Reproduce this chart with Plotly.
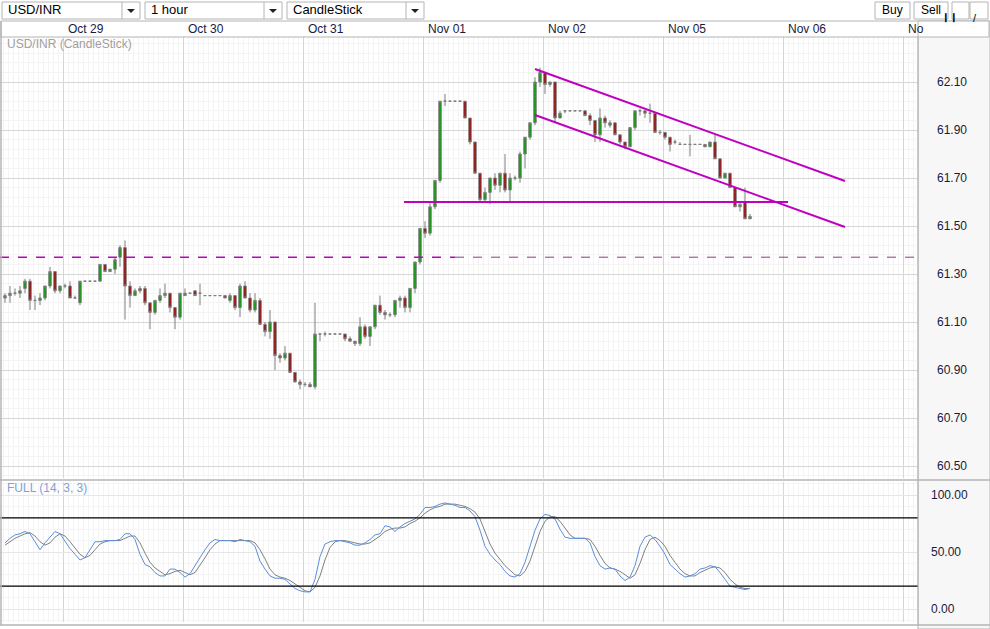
import plotly.graph_objects as go

opens = [61.20,61.21,61.22,61.22,61.24,61.27,61.19,61.19,61.20,61.25,
 61.31,61.23,61.25,61.25,61.20,61.18,61.27,61.27,61.27,61.27,
 61.34,61.31,61.32,61.37,61.41,61.25,61.21,61.24,61.24,61.18,
 61.14,61.19,61.21,61.22,61.16,61.12,61.21,61.22,61.23,61.22,
 61.21,61.21,61.21,61.21,61.21,61.19,61.21,61.16,61.25,61.20,
 61.15,61.19,61.09,61.06,61.10,60.96,60.95,60.97,60.89,60.85,
 60.84,60.84,60.83,61.05,61.05,61.05,61.05,61.05,61.05,61.03,
 61.02,61.01,61.08,61.04,61.08,61.17,61.14,61.13,61.13,61.19,
 61.20,61.16,61.24,61.35,61.49,61.47,61.58,61.69,62.02,62.02,
 62.02,62.02,62.02,61.95,61.85,61.72,61.61,61.64,61.70,61.67,
 61.72,61.65,61.70,61.70,61.80,61.87,61.93,62.10,62.14,62.09,
 62.10,61.95,61.98,61.98,61.98,61.98,61.98,61.96,61.94,61.88,
 61.95,61.92,61.93,61.88,61.85,61.83,61.91,61.98,61.98,61.97,
 61.97,61.89,61.89,61.87,61.85,61.84,61.84,61.84,61.84,61.84,
 61.84,61.83,61.85,61.78,61.70,61.72,61.66,61.58,61.60,61.53]
closes = [61.21,61.22,61.22,61.23,61.27,61.19,61.19,61.20,61.25,61.31,
 61.23,61.25,61.25,61.20,61.20,61.27,61.27,61.27,61.27,61.34,
 61.31,61.32,61.36,61.41,61.25,61.21,61.23,61.23,61.18,61.14,
 61.19,61.21,61.22,61.16,61.12,61.22,61.22,61.22,61.21,61.22,
 61.21,61.21,61.21,61.21,61.20,61.21,61.16,61.25,61.20,61.15,
 61.19,61.09,61.06,61.10,60.96,60.95,60.97,60.89,60.85,60.84,
 60.84,60.83,61.05,61.05,61.05,61.05,61.05,61.05,61.03,61.02,
 61.01,61.08,61.04,61.08,61.17,61.14,61.13,61.13,61.19,61.20,
 61.16,61.24,61.35,61.49,61.47,61.58,61.69,62.02,62.02,62.02,
 62.02,62.02,61.95,61.85,61.72,61.61,61.64,61.70,61.67,61.72,
 61.65,61.70,61.70,61.80,61.87,61.93,62.10,62.14,62.09,62.10,
 61.95,61.97,61.98,61.98,61.98,61.98,61.96,61.94,61.88,61.95,
 61.93,61.93,61.88,61.85,61.83,61.91,61.98,61.98,61.97,61.97,
 61.89,61.89,61.87,61.84,61.85,61.84,61.84,61.84,61.84,61.84,
 61.83,61.85,61.78,61.70,61.72,61.66,61.58,61.59,61.53,61.54]
highs = [61.22,61.25,61.24,61.25,61.28,61.28,61.21,61.22,61.25,61.33,
 61.31,61.25,61.26,61.27,61.21,61.27,61.27,61.27,61.27,61.34,
 61.34,61.32,61.37,61.42,61.44,61.27,61.24,61.25,61.25,61.18,
 61.19,61.24,61.26,61.22,61.16,61.22,61.24,61.22,61.23,61.26,
 61.21,61.21,61.21,61.21,61.21,61.22,61.21,61.26,61.27,61.22,
 61.22,61.20,61.10,61.15,61.10,60.97,61.00,60.97,60.89,60.86,
 60.85,60.85,61.18,61.05,61.06,61.05,61.05,61.05,61.05,61.04,
 61.02,61.12,61.09,61.08,61.17,61.21,61.15,61.14,61.19,61.21,
 61.21,61.24,61.35,61.49,61.52,61.60,61.69,62.02,62.05,62.02,
 62.02,62.02,62.02,61.95,61.85,61.72,61.66,61.70,61.72,61.72,
 61.80,61.72,61.71,61.81,61.87,61.93,62.12,62.16,62.14,62.10,
 62.10,61.98,61.98,61.98,61.98,61.98,61.98,61.97,61.94,61.99,
 61.96,61.94,61.93,61.88,61.85,61.91,61.98,61.99,61.98,62.01,
 61.97,61.90,61.89,61.87,61.86,61.85,61.84,61.88,61.84,61.84,
 61.84,61.85,61.88,61.78,61.72,61.72,61.66,61.60,61.66,61.55]
lows = [61.18,61.18,61.21,61.20,61.22,61.15,61.15,61.17,61.19,61.24,
 61.22,61.22,61.24,61.20,61.20,61.17,61.27,61.27,61.27,61.27,
 61.31,61.31,61.30,61.33,61.11,61.16,61.21,61.22,61.17,61.07,
 61.13,61.18,61.20,61.14,61.07,61.11,61.21,61.22,61.21,61.17,
 61.21,61.21,61.21,61.21,61.20,61.18,61.15,61.12,61.20,61.14,
 61.14,61.09,61.04,61.03,60.90,60.93,60.94,60.89,60.85,60.82,
 60.83,60.83,60.82,61.02,61.04,61.05,61.05,61.05,61.02,61.02,
 61.00,61.00,61.03,61.00,61.07,61.13,61.11,61.12,61.12,61.16,
 61.14,61.14,61.22,61.34,61.45,61.46,61.57,61.68,62.00,62.02,
 62.02,62.02,61.95,61.84,61.72,61.60,61.60,61.59,61.65,61.64,
 61.64,61.60,61.69,61.68,61.74,61.86,61.92,62.08,62.05,62.08,
 61.93,61.95,61.97,61.98,61.98,61.98,61.96,61.92,61.85,61.85,
 61.91,61.91,61.88,61.84,61.82,61.83,61.90,61.96,61.95,61.93,
 61.89,61.88,61.86,61.81,61.84,61.84,61.84,61.79,61.84,61.84,
 61.83,61.83,61.78,61.70,61.70,61.66,61.58,61.56,61.53,61.53]

stoch_k = [58,62,65,66,68,66,59,52,58,63, 68,66,59,53,48,43,45,52,59,59,
 60,60,60,61,66,66,61,48,39,37, 32,29,29,35,35,32,28,31,38,46,
 52,58,61,60,60,60,59,61,60,59, 55,42,35,29,27,27,26,22,18,16,
 15,15,26,46,57,59,60,60,59,58, 56,56,58,61,65,66,73,72,68,72,
 75,77,79,83,89,89,90,92,93,92, 91,89,89,86,81,69,55,48,43,39,
 33,29,28,31,41,55,69,79,83,82, 79,70,63,62,62,62,62,58,46,38,
 35,36,35,29,25,28,38,55,63,65, 61,55,48,39,35,31,28,29,31,35,
 36,38,37,32,26,20,19,18,17,18]
stoch_d = [56,59,62,64,66,67,64,59,56,58, 63,66,64,59,53,48,45,47,52,57,
 59,60,60,60,62,64,64,58,49,41, 36,33,30,31,33,34,32,30,32,38,
 45,52,57,60,60,60,60,60,60,60, 58,52,44,35,30,28,27,25,22,19,
 16,15,19,29,43,54,59,60,60,59, 58,57,57,58,61,64,68,70,71,71,
 72,75,77,80,84,87,89,90,92,92, 92,91,90,88,85,79,68,57,49,43,
 38,34,30,29,33,42,55,68,77,81, 81,77,71,65,62,62,62,61,55,47,
 40,36,35,33,30,27,30,40,52,61, 63,60,55,47,41,35,31,29,29,32,
 34,36,37,36,32,26,22,19,18,18]

day_labels = ["Oct 29", "Oct 30", "Oct 31", "Nov 01", "Nov 02", "Nov 05", "Nov 06", "No"]
day_bounds = [11.6, 35.6, 59.6, 83.6, 107.6, 131.6, 155.6, 179.6]
price_ticks = [60.50, 60.70, 60.90, 61.10, 61.30, 61.50, 61.70, 61.90, 62.10]

support_x, support_y = [79.8, 156.6], [61.60, 61.60]
upper_x, upper_y = [106, 168], [62.154, 61.6875]
lower_x, lower_y = [106, 168], [61.9625, 61.4958]
res_level = 61.37

idx = list(range(len(opens)))
MAG = "#c000c0"
fig = go.Figure()
fig.add_trace(go.Candlestick(x=idx, open=opens, high=highs, low=lows, close=closes,
    increasing=dict(fillcolor="#00a000", line=dict(color="#7f7f7f", width=1)),
    decreasing=dict(fillcolor="#a00000", line=dict(color="#7f7f7f", width=1)),
    whiskerwidth=0, xaxis="x", yaxis="y", showlegend=False, hoverinfo="skip"))
fig.add_trace(go.Scatter(x=[-1, 90], y=[res_level]*2, mode="lines",
    line=dict(color=MAG, width=1.5, dash="dash"), xaxis="x", yaxis="y", showlegend=False))
fig.add_trace(go.Scatter(x=[90, 183], y=[res_level]*2, mode="lines",
    line=dict(color="#8a3a8a", width=1, dash="dash"), xaxis="x", yaxis="y", showlegend=False))
for tx, ty in [(support_x, support_y), (upper_x, upper_y), (lower_x, lower_y)]:
    fig.add_trace(go.Scatter(x=tx, y=ty, mode="lines", line=dict(color=MAG, width=2),
        xaxis="x", yaxis="y", showlegend=False))
fig.add_trace(go.Scatter(x=idx, y=stoch_d, mode="lines", line=dict(color="#808080", width=1),
    xaxis="x2", yaxis="y2", showlegend=False))
fig.add_trace(go.Scatter(x=idx, y=stoch_k, mode="lines", line=dict(color="#5b8fdb", width=1),
    xaxis="x2", yaxis="y2", showlegend=False))
for lvl in [80, 20]:
    fig.add_trace(go.Scatter(x=[-1, 183], y=[lvl, lvl], mode="lines", line=dict(color="black", width=1.2),
        xaxis="x2", yaxis="y2", showlegend=False))

H = 585.0
def py(p):
    return (622 - p) / H
def px(p):
    return p / 918.0

xcommon = dict(range=[-1, 182.6], tickvals=day_bounds, showticklabels=False, ticks="",
    showgrid=True, gridcolor="#d6d6d6", gridwidth=1, zeroline=False,
    minor=dict(dtick=1, tick0=0.6, showgrid=True, gridcolor="#f4f4f4"),
    showline=False, rangeslider=dict(visible=False))
fig.update_layout(
    width=990, height=629, margin=dict(l=0, r=72, t=37, b=7),
    paper_bgcolor="white", plot_bgcolor="white",
    font=dict(family="Liberation Sans, Arial", size=12, color="#1a1a40"),
    xaxis=dict(domain=[0, 1], anchor="y", **xcommon),
    xaxis2=dict(domain=[0, 1], anchor="y2", matches="x", **{k: v for k, v in xcommon.items() if k != "rangeslider"}),
    yaxis=dict(domain=[py(478), 1], range=[60.45, 62.2875], side="right", tickvals=price_ticks,
        tickformat=".2f", showgrid=True, gridcolor="#d6d6d6", zeroline=False, ticks="",
        minor=dict(dtick=0.04, tick0=60.5, showgrid=True, gridcolor="#f4f4f4"),
        tickfont=dict(size=12, color="#1a1a40"), ticklabelstandoff=18),
    yaxis2=dict(domain=[0, py(482)], range=[-11.4, 111.4], side="right", tickvals=[0, 50, 100],
        tickformat=".2f", showgrid=True, gridcolor="#e6e6e6", zeroline=False, ticks="",
        minor=dict(dtick=10, tick0=0, showgrid=True, gridcolor="#f4f4f4"),
        tickfont=dict(size=12, color="#1a1a40"), ticklabelstandoff=12),
)

shapes = []
G = "#b4b4b4"
shapes.append(dict(type="rect", xref="paper", yref="paper", x0=1, x1=990/918, y0=py(629), y1=py(21),
    fillcolor="#f7f7f7", line=dict(color=G, width=1), layer="below"))
shapes.append(dict(type="rect", xref="paper", yref="paper", x0=px(1), x1=px(989), y0=py(37), y1=py(21),
    fillcolor="white", line=dict(color=G, width=1)))
shapes.append(dict(type="line", xref="paper", yref="paper", x0=0, x1=990/918, y0=py(480), y1=py(480),
    line=dict(color=G, width=1.5)))
shapes.append(dict(type="line", xref="paper", yref="paper", x0=1, x1=1, y0=py(625), y1=py(21),
    line=dict(color=G, width=1)))
shapes.append(dict(type="line", xref="paper", yref="paper", x0=px(1), x1=px(1), y0=py(625), y1=py(21),
    line=dict(color=G, width=1.5)))
shapes.append(dict(type="line", xref="paper", yref="paper", x0=0, x1=990/918, y0=py(625), y1=py(625),
    line=dict(color=G, width=1.5)))
for x0, x1 in [(2, 140), (145, 282), (287, 424), (875, 910), (914, 948), (952, 969), (970, 988)]:
    shapes.append(dict(type="rect", xref="paper", yref="paper", x0=px(x0), x1=px(x1), y0=py(19), y1=py(2),
        fillcolor="white", line=dict(color=G, width=1)))
for x0 in [122, 264, 406]:
    shapes.append(dict(type="line", xref="paper", yref="paper", x0=px(x0), x1=px(x0), y0=py(19), y1=py(2),
        line=dict(color=G, width=1)))
    shapes.append(dict(type="path", xref="paper", yref="paper",
        path=f"M {px(x0+5)} {py(9)} L {px(x0+13)} {py(9)} L {px(x0+9)} {py(13)} Z", fillcolor="#222", line=dict(width=0)))
fig.update_layout(shapes=shapes)

ann = []
for lab, b in zip(day_labels, day_bounds):
    ann.append(dict(x=b + 0.6, y=py(29), xref="x", yref="paper", text=lab, showarrow=False,
        xanchor="left", yanchor="middle", font=dict(size=12, color="#1a1a40")))
ann.append(dict(x=px(5), y=py(44), xref="paper", yref="paper", text="USD/INR (CandleStick)", showarrow=False,
    xanchor="left", yanchor="middle", font=dict(size=12, color="#a0a0a0")))
ann.append(dict(x=px(5), y=py(488), xref="paper", yref="paper", text="FULL (14, 3, 3)", showarrow=False,
    xanchor="left", yanchor="middle", font=dict(size=12, color="#7f9fd8")))
for x, t in [(6, "USD/INR"), (149, "1 hour"), (291, "CandleStick")]:
    ann.append(dict(x=px(x), y=py(10), xref="paper", yref="paper", text=t, showarrow=False,
        xanchor="left", yanchor="middle", font=dict(size=13, color="#000")))
for x, t in [(892, "Buy"), (931, "Sell")]:
    ann.append(dict(x=px(x), y=py(10), xref="paper", yref="paper", text=t, showarrow=False,
        xanchor="center", yanchor="middle", font=dict(size=12, color="#000")))
ann.append(dict(x=px(960), y=py(10), xref="paper", yref="paper", text="\u2759\u2759", showarrow=False,
    font=dict(size=9, color="#000")))
ann.append(dict(x=px(979), y=py(10), xref="paper", yref="paper", text="/", showarrow=False,
    font=dict(size=11, color="#000")))
fig.update_layout(annotations=ann)

fig.write_html("out.html", config={"displayModeBar": False},
    post_script="document.body.style.margin='0';document.body.style.overflow='hidden';")
